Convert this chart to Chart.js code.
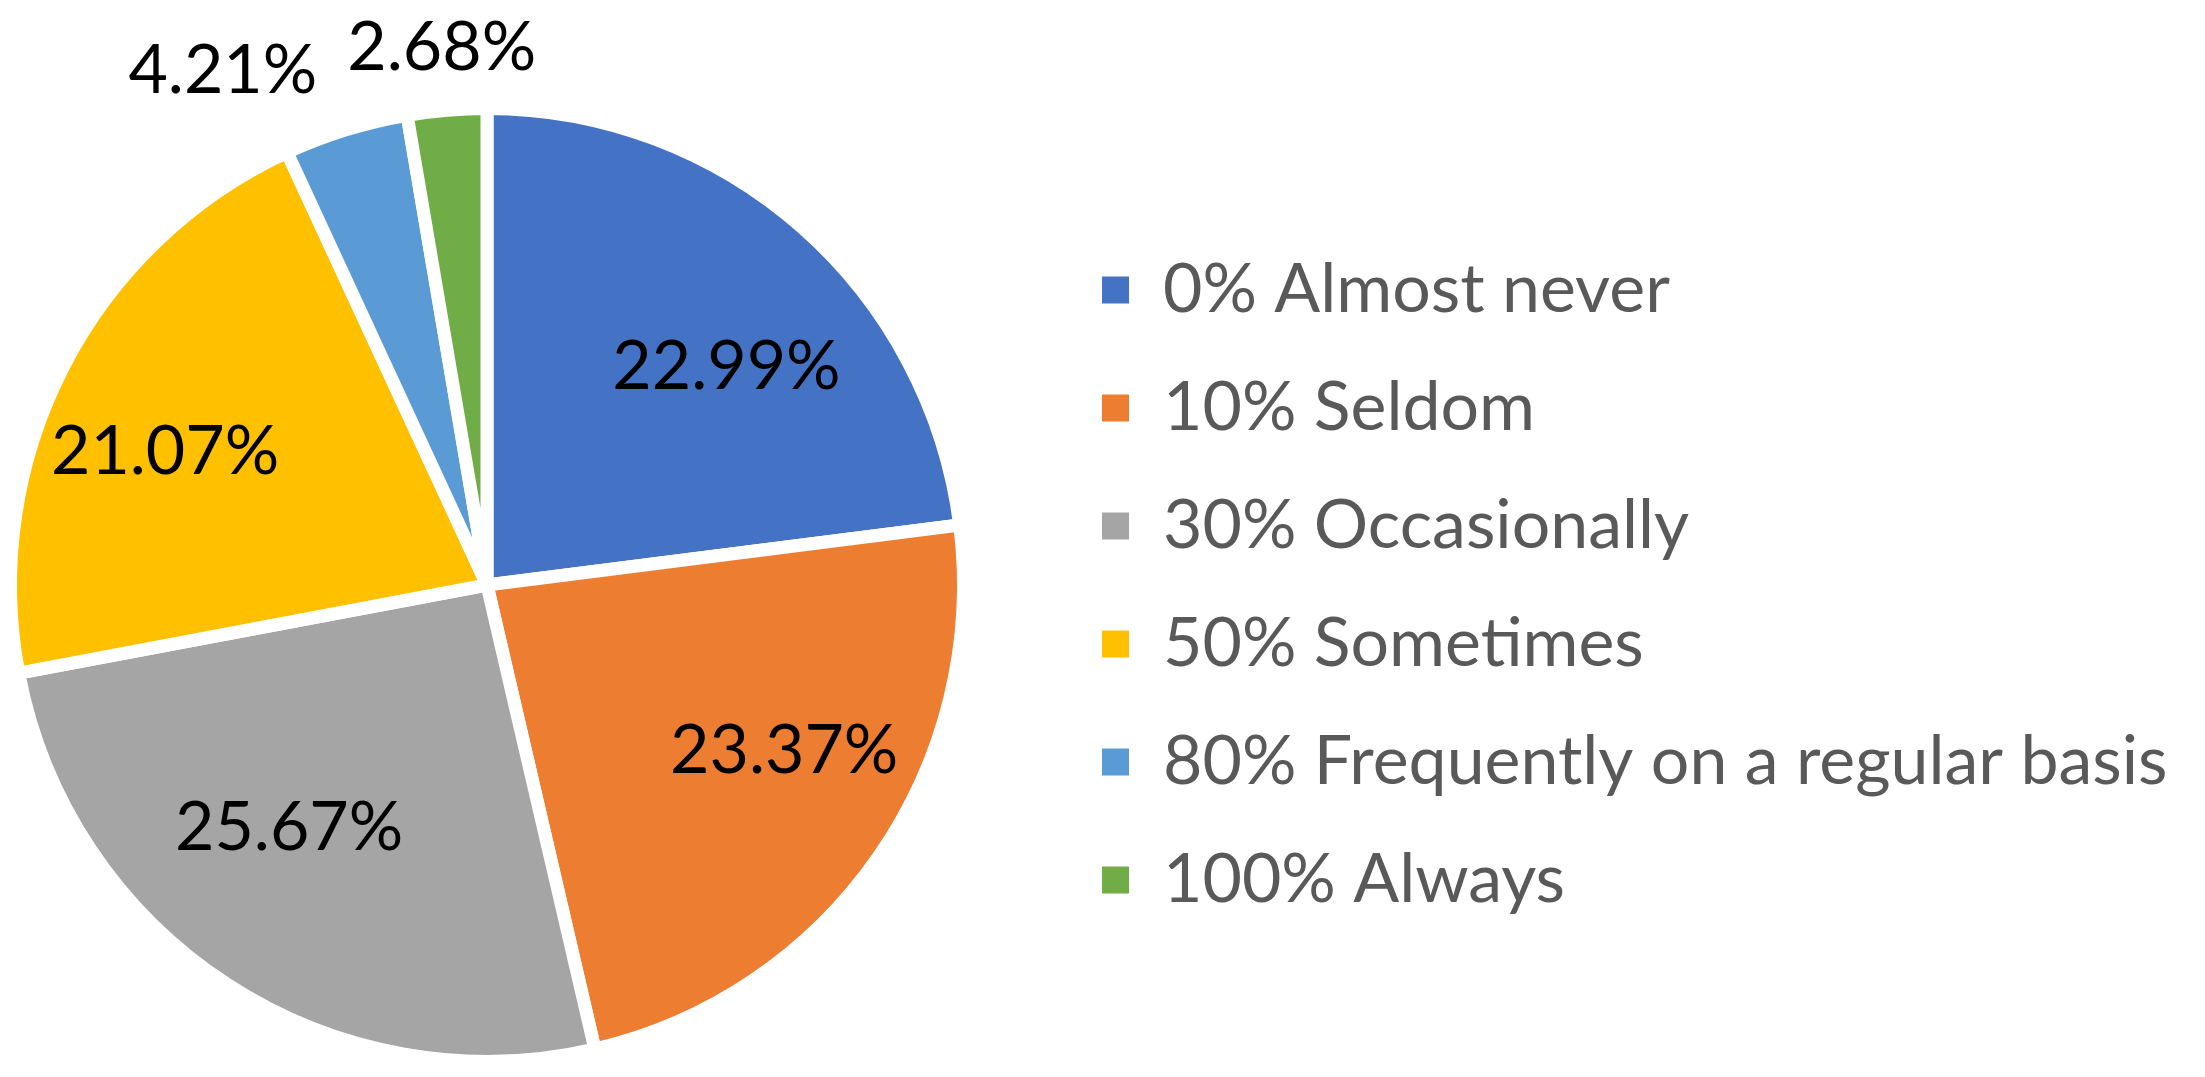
<!DOCTYPE html>
<html>
<head>
<meta charset="utf-8">
<script src="https://cdn.jsdelivr.net/npm/chart.js@4.4.1/dist/chart.umd.min.js"></script>
<style>
  html, body { margin: 0; padding: 0; background: #fff; overflow: hidden; }
  #wrap { position: absolute; left: -78px; top: 0; width: 2283px; height: 1077px; }
</style>
</head>
<body>
<div id="wrap"><canvas id="pieChart"></canvas></div>
<script>
const categories = ['0% Almost never', '10% Seldom', '30% Occasionally', '50% Sometimes', '80% Frequently on a regular basis', '100% Always'];
const shares = [22.99, 23.37, 25.67, 21.07, 4.21, 2.68];
const sliceColors = ['#4472C4', '#ED7D31', '#A5A5A5', '#FFC000', '#5B9BD5', '#70AD47'];

const FONT = 'Lato';
const FONT_SIZE = 68;
const LEGEND_PAD = 50;
const BOX = 27;

// right padding so the legend starts where the pie area ends
const probe = document.createElement('canvas').getContext('2d');
probe.font = FONT_SIZE + 'px ' + FONT;
const longest = Math.max(...categories.map(c => probe.measureText(c).width));
const legendWidth = LEGEND_PAD + BOX + FONT_SIZE / 2 + longest + 10;
const padRight = Math.max(0, 2283 - 1130 - Math.min(legendWidth, 1130));

const sliceLabels = {
  id: 'sliceLabels',
  afterDatasetsDraw(chart) {
    const ctx = chart.ctx;
    const meta = chart.getDatasetMeta(0);
    ctx.save();
    ctx.font = FONT_SIZE + 'px ' + FONT;
    ctx.fillStyle = '#000000';
    ctx.textAlign = 'center';
    ctx.textBaseline = 'middle';
    let prevLeft = null;
    for (let i = meta.data.length - 1; i >= 0; i--) {
      const p = meta.data[i].getProps(['x', 'y', 'startAngle', 'endAngle', 'outerRadius'], true);
      const mid = (p.startAngle + p.endAngle) / 2;
      const text = shares[i].toFixed(2) + '%';
      const outside = shares[i] < 10;
      let lx, ly;
      if (outside) {
        const dist = p.outerRadius + 62;
        lx = p.x + Math.cos(mid) * dist;
        ly = p.y + Math.sin(mid) * dist;
        const w = ctx.measureText(text).width;
        if (prevLeft !== null && lx + w / 2 > prevLeft - 30) lx = prevLeft - 30 - w / 2;
        prevLeft = lx - w / 2;
      } else {
        lx = p.x + Math.cos(mid) * p.outerRadius * 0.76;
        ly = p.y + Math.sin(mid) * p.outerRadius * 0.61;
      }
      ctx.fillText(text, lx, ly);
    }
    ctx.restore();
  }
};

new Chart(document.getElementById('pieChart'), {
  type: 'pie',
  data: {
    labels: categories,
    datasets: [
    {
      data: shares,
      backgroundColor: sliceColors,
      borderColor: '#ffffff',
      borderWidth: 13
    }
    ]
  },
  options: {
    responsive: true,
    maintainAspectRatio: false,
    animation: false,
    layout: {
      padding: { top: 102, bottom: 9, left: 0, right: padRight }
    },
    plugins: {
      tooltip: { enabled: false },
      legend: {
        position: 'right',
        labels: {
          boxWidth: BOX,
          boxHeight: BOX,
          padding: LEGEND_PAD,
          color: '#595959',
          font: { family: FONT, size: FONT_SIZE },
          generateLabels(chart) {
            const items = Chart.overrides.doughnut.plugins.legend.labels.generateLabels(chart);
            items.forEach(it => { it.lineWidth = 0; });
            return items;
          }
        }
      }
    }
  },
  plugins: [sliceLabels]
});
</script>
</body>
</html>
